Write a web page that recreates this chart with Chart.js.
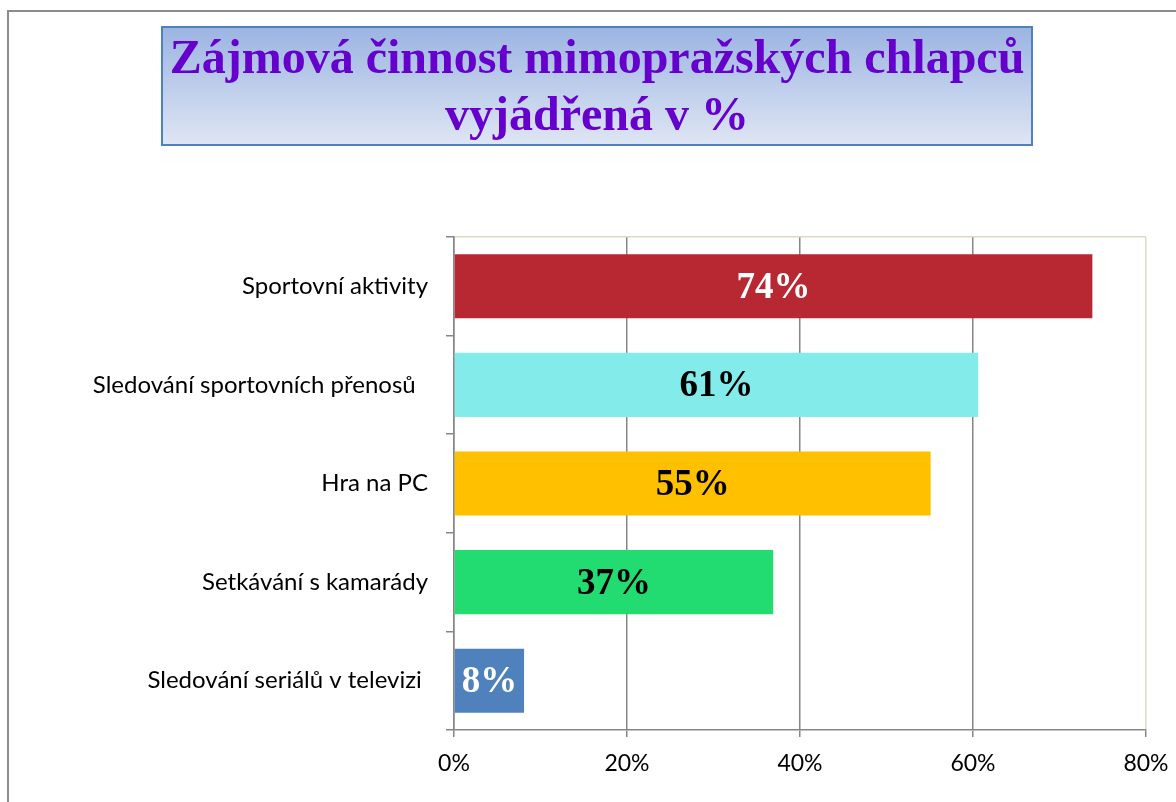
<!DOCTYPE html>
<html>
<head>
<meta charset="utf-8">
<script src="https://cdn.jsdelivr.net/npm/chart.js@4.4.1/dist/chart.umd.min.js"></script>
<style>
  body { margin: 0; background: #fff; }
  #wrap { width: 1176px; height: 802px; }
</style>
</head>
<body>
<div id="wrap"><canvas id="chart" width="1176" height="802"></canvas></div>
<script>
const categories = [
  'Sportovní aktivity',
  'Sledování sportovních přenosů  ',
  'Hra na PC',
  'Setkávání s kamarády',
  'Sledování seriálů v televizi '
];
const values = [73.8, 60.6, 55.1, 36.9, 8.1];
const valueLabels = ['74%', '61%', '55%', '37%', '8%'];
const barColors = ['#b72833', '#83ecea', '#ffc000', '#23dc71', '#4f81bd'];
const labelColors = ['#ffffff', '#000000', '#000000', '#000000', '#ffffff'];
const axisMin = 0;
const axisMax = 80;
const axisStep = 20;

const GRAY = '#868686';
const BEIGE = '#ddd9c3';

// frame around the whole chart and the shaded title box
const backdrop = {
  id: 'backdrop',
  beforeDraw(chart) {
    const ctx = chart.ctx;
    ctx.save();
    ctx.strokeStyle = '#8c8c8c';
    ctx.lineWidth = 2;
    ctx.strokeRect(8, 11, 1400, 1000);

    const g = ctx.createLinearGradient(0, 27, 0, 145);
    g.addColorStop(0, '#9bb4e2');
    g.addColorStop(1, '#dfe6f4');
    ctx.fillStyle = g;
    ctx.fillRect(162, 27, 870, 118);
    ctx.strokeStyle = '#4f81bd';
    ctx.lineWidth = 2;
    ctx.strokeRect(162, 27, 870, 118);
    ctx.restore();
  }
};

// value labels in the middle of each bar
const barLabels = {
  id: 'barLabels',
  afterDatasetsDraw(chart) {
    const ctx = chart.ctx;
    const meta = chart.getDatasetMeta(0);
    ctx.save();
    ctx.font = 'bold 37px "Liberation Serif", "Times New Roman", serif';
    ctx.textAlign = 'center';
    ctx.textBaseline = 'middle';
    meta.data.forEach((bar, i) => {
      ctx.fillStyle = labelColors[i];
      ctx.fillText(valueLabels[i], (bar.x + bar.base) / 2, bar.y + 2);
    });
    ctx.restore();
  }
};

new Chart(document.getElementById('chart'), {
  type: 'bar',
  data: {
    labels: categories,
    datasets: [{
      data: values,
      backgroundColor: barColors,
      barPercentage: 0.65,
      categoryPercentage: 1
    }]
  },
  options: {
    indexAxis: 'y',
    responsive: false,
    animation: false,
    layout: { padding: { left: 48, right: 30, top: 0, bottom: 0 } },
    plugins: {
      legend: { display: false },
      tooltip: { enabled: false },
      title: {
        display: true,
        text: ['Zájmová činnost mimopražských chlapců', 'vyjádřená v %'],
        color: '#6600cc',
        font: { family: '"Liberation Serif", "Times New Roman", serif', size: 48, weight: 'bold', lineHeight: 1.17 },
        padding: { top: 33, bottom: 91.7 }
      }
    },
    scales: {
      x: {
        min: axisMin,
        max: axisMax,
        ticks: {
          stepSize: axisStep,
          callback: (v) => v + '%',
          color: '#000',
          padding: 13,
          font: { family: 'Lato, "Open Sans", sans-serif', size: 23 }
        },
        grid: {
          color: (c) => (c.index === 4 ? BEIGE : GRAY),
          tickColor: GRAY,
          tickLength: 7,
          lineWidth: 1.5
        },
        border: { color: GRAY, width: 1.5 },
        afterFit(scale) {
          scale.height = 72;
          scale.paddingRight = 0;
          scale.paddingLeft = 0;
        }
      },
      y: {
        ticks: {
          color: '#000',
          padding: 18,
          font: { family: 'Lato, "Open Sans", sans-serif', size: 24 }
        },
        grid: {
          color: (c) => (c.index === 0 ? BEIGE : 'rgba(0,0,0,0)'),
          tickColor: GRAY,
          tickLength: 8,
          lineWidth: 1.5
        },
        border: { color: GRAY, width: 1.5 },
        afterFit(scale) { scale.width = 406; }
      }
    }
  },
  plugins: [backdrop, barLabels]
});
</script>
</body>
</html>
